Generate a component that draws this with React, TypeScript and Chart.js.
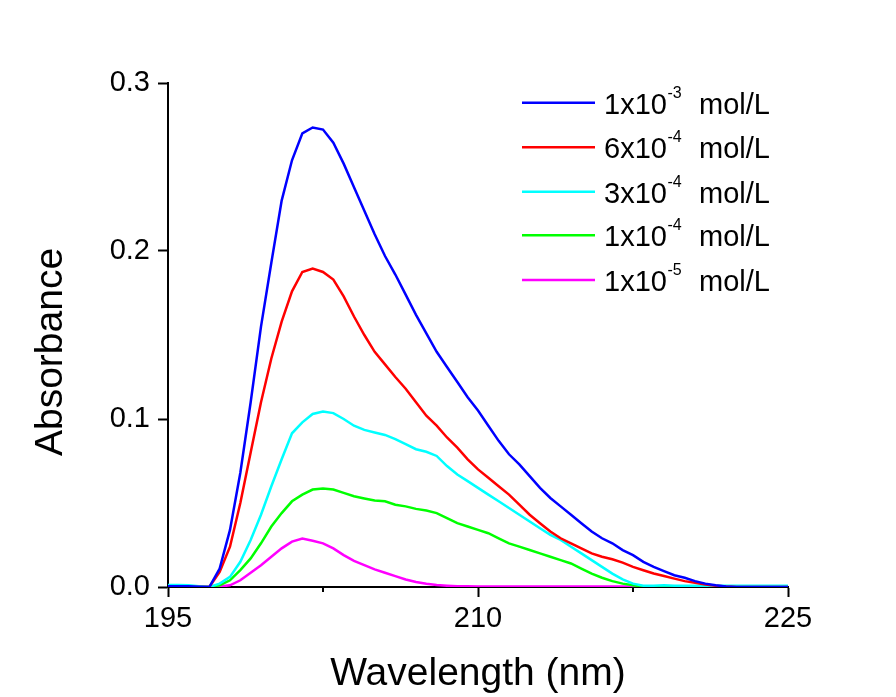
import React, { useEffect, useRef } from "react";
import { Chart, registerables } from "chart.js";

Chart.register(...registerables);

const wavelengths = [
  195, 195.5, 196, 196.5, 197, 197.5, 198, 198.5, 199, 199.5,
  200, 200.5, 201, 201.5, 202, 202.5, 203, 203.5, 204, 204.5,
  205, 205.5, 206, 206.5, 207, 207.5, 208, 208.5, 209, 209.5,
  210, 210.5, 211, 211.5, 212, 212.5, 213, 213.5, 214, 214.5,
  215, 215.5, 216, 216.5, 217, 217.5, 218, 218.5, 219, 219.5,
  220, 220.5, 221, 221.5, 222, 222.5, 223, 223.5, 224, 224.5, 225,
];

const conc1e3 = [
  0.0005, 0.0005, 0.0005, 0.0002, 0, 0.011, 0.034, 0.068, 0.110, 0.155,
  0.193, 0.230, 0.254, 0.270, 0.2735, 0.2723, 0.2645, 0.252, 0.238, 0.224,
  0.210, 0.197, 0.186, 0.174, 0.162, 0.151, 0.140, 0.131, 0.122, 0.113,
  0.105, 0.096, 0.087, 0.079, 0.073, 0.066, 0.059, 0.053, 0.048, 0.043,
  0.038, 0.033, 0.029, 0.026, 0.022, 0.019, 0.015, 0.012, 0.0095, 0.007,
  0.0055, 0.0035, 0.002, 0.001, 0.0003, 0, 0, 0, 0, 0, 0,
];

const conc6e4 = [
  0, 0, 0, 0, 0, 0.009, 0.024, 0.050, 0.080, 0.110,
  0.136, 0.158, 0.176, 0.1875, 0.1895, 0.1875, 0.183, 0.173, 0.161, 0.150,
  0.140, 0.1325, 0.125, 0.118, 0.110, 0.102, 0.096, 0.089, 0.083, 0.076,
  0.070, 0.065, 0.060, 0.055, 0.049, 0.043, 0.038, 0.033, 0.029, 0.026,
  0.023, 0.020, 0.018, 0.0165, 0.0145, 0.012, 0.010, 0.008, 0.0065, 0.005,
  0.0035, 0.0025, 0.0015, 0.0008, 0.0003, 0, 0, 0, 0, 0, 0,
];

const conc3e4 = [
  0.0012, 0.0012, 0.001, 0.0005, 0, 0.002, 0.006, 0.015, 0.028, 0.043,
  0.060, 0.076, 0.0915, 0.098, 0.103, 0.1044, 0.1035, 0.100, 0.096, 0.0935,
  0.092, 0.0905, 0.088, 0.085, 0.082, 0.0805, 0.078, 0.072, 0.067, 0.063,
  0.059, 0.055, 0.051, 0.047, 0.043, 0.039, 0.035, 0.031, 0.028, 0.024,
  0.020, 0.016, 0.012, 0.008, 0.0045, 0.002, 0.0008, 0.0008, 0.001, 0.0008,
  0.0008, 0.0008, 0.0008, 0.0008, 0.0008, 0.0007, 0.0007, 0.0007, 0.0007, 0.0007, 0.0007,
];

const conc1e4 = [
  0.0003, 0.0003, 0.0003, 0.0002, 0, 0.001, 0.004, 0.010, 0.017, 0.026,
  0.036, 0.044, 0.051, 0.055, 0.058, 0.0587, 0.058, 0.056, 0.054, 0.0527,
  0.0515, 0.051, 0.049, 0.048, 0.0465, 0.0455, 0.044, 0.041, 0.038, 0.036,
  0.034, 0.032, 0.029, 0.026, 0.024, 0.022, 0.020, 0.018, 0.016, 0.014,
  0.011, 0.008, 0.0055, 0.0035, 0.002, 0.001, 0.0003, 0, 0, 0,
  0, 0, 0, 0, 0, 0, 0, 0, 0, 0, 0,
];

const conc1e5 = [
  0.0005, 0.0005, 0.0005, 0.0003, 0, 0.0003, 0.001, 0.004, 0.0085, 0.013,
  0.018, 0.023, 0.027, 0.0289, 0.0275, 0.026, 0.023, 0.019, 0.0155, 0.013,
  0.0105, 0.0085, 0.0065, 0.0045, 0.003, 0.002, 0.0012, 0.0008, 0.0005, 0.0004,
  0.0003, 0.0003, 0.0003, 0.0003, 0.0003, 0.0003, 0.0003, 0.0003, 0.0003, 0.0003,
  0.0003, 0.0003, 0.0003, 0.0003, 0.0003, 0.0003, 0.0003, 0.0003, 0.0003, 0.0003,
  0.0003, 0.0003, 0.0003, 0.0003, 0.0003, 0.0003, 0.0003, 0.0003, 0.0003, 0.0003, 0.0003,
];

const seriesValues = [conc1e3, conc6e4, conc3e4, conc1e4, conc1e5];
const seriesColors = ["#0000FF", "#FF0000", "#00FFFF", "#00FF00", "#FF00FF"];
const legendMantissa = ["1x10", "6x10", "3x10", "1x10", "1x10"];
const legendExponent = ["-3", "-4", "-4", "-4", "-5"];
const legendUnit = "mol/L";

const xMajorTicks = [195, 210, 225];
const xMinorTicks = [202.5, 217.5];
const yTicks = [0.0, 0.1, 0.2, 0.3];

const xTitle = "Wavelength (nm)";
const yTitle = "Absorbance";

const FONT = "'Liberation Sans', Arial, Helvetica, sans-serif";

export default function App() {
  const canvasRef = useRef<HTMLCanvasElement | null>(null);

  useEffect(() => {
    const canvas = canvasRef.current;
    if (!canvas) return;

    const overlay = {
      id: "overlay",
      afterDraw(chart: any) {
        const ctx = chart.ctx as CanvasRenderingContext2D;
        const xs = chart.scales.x;
        const area = chart.chartArea;
        ctx.save();
        // minor ticks
        ctx.strokeStyle = "#000";
        ctx.lineWidth = 2;
        xMinorTicks.forEach((v) => {
          const px = Math.round(xs.getPixelForValue(v));
          ctx.beginPath();
          ctx.moveTo(px, area.bottom);
          ctx.lineTo(px, area.bottom + 5);
          ctx.stroke();
        });
        // axis titles
        ctx.fillStyle = "#000";
        ctx.font = `39px ${FONT}`;
        ctx.textAlign = "center";
        ctx.textBaseline = "alphabetic";
        ctx.fillText(xTitle, (area.left + area.right) / 2, 685);
        ctx.save();
        ctx.translate(62, 352);
        ctx.rotate(-Math.PI / 2);
        ctx.fillText(yTitle, 0, 0);
        ctx.restore();
        // legend
        const rowY = [102.7, 147.3, 191.7, 235.3, 280];
        ctx.textAlign = "left";
        seriesColors.forEach((c, i) => {
          const y = rowY[i];
          ctx.strokeStyle = c;
          ctx.lineWidth = 2.5;
          ctx.beginPath();
          ctx.moveTo(522, y);
          ctx.lineTo(595, y);
          ctx.stroke();
          ctx.fillStyle = "#000";
          ctx.font = `29px ${FONT}`;
          const x0 = 604;
          ctx.fillText(legendMantissa[i], x0, y + 10.8);
          const w = ctx.measureText(legendMantissa[i]).width;
          ctx.font = `16px ${FONT}`;
          ctx.fillText(legendExponent[i], x0 + w + 0.5, y - 5);
          ctx.font = `29px ${FONT}`;
          ctx.fillText(legendUnit, 699, y + 10.8);
        });
        ctx.restore();
      },
    };

    const chart = new Chart(canvas, {
      type: "line",
      data: {
        datasets: seriesValues.map((vals, i) => ({
          label: `${legendMantissa[i]}^${legendExponent[i]} ${legendUnit}`,
          data: vals.map((v, j) => ({ x: wavelengths[j], y: v })),
          borderColor: seriesColors[i],
          backgroundColor: seriesColors[i],
          borderWidth: 2.5,
          pointRadius: 0,
          tension: 0,
          fill: false,
        })),
      },
      options: {
        animation: false,
        responsive: false,
        devicePixelRatio: 1,
        layout: { padding: { left: 0, top: 83, right: 108, bottom: 0 } },
        plugins: {
          legend: { display: false },
          tooltip: { enabled: false },
          title: { display: false },
        },
        scales: {
          x: {
            type: "linear",
            min: 195,
            max: 225,
            afterFit: (axis: any) => {
              axis.height = 110;
            },
            afterBuildTicks: (axis: any) => {
              axis.ticks = xMajorTicks.map((v) => ({ value: v }));
            },
            ticks: {
              color: "#000",
              font: { family: FONT, size: 29 },
              padding: 5,
              maxRotation: 0,
              callback: (v: any) => String(v),
            },
            grid: {
              display: true,
              drawOnChartArea: false,
              drawTicks: true,
              tickLength: 10,
              tickWidth: 2,
              tickColor: "#000",
            },
            border: { display: true, color: "#000", width: 2 },
          },
          y: {
            type: "linear",
            min: 0,
            max: 0.3,
            afterFit: (axis: any) => {
              axis.width = 168;
            },
            afterBuildTicks: (axis: any) => {
              axis.ticks = yTicks.map((v) => ({ value: v }));
            },
            ticks: {
              color: "#000",
              font: { family: FONT, size: 29 },
              padding: 8,
              callback: (v: any) => Number(v).toFixed(1),
            },
            grid: {
              display: true,
              drawOnChartArea: false,
              drawTicks: true,
              tickLength: 10,
              tickWidth: 2,
              tickColor: "#000",
            },
            border: { display: true, color: "#000", width: 2 },
          },
        },
      },
      plugins: [overlay],
    } as any);

    return () => {
      chart.destroy();
    };
  }, []);

  return (
    <div
      style={{
        position: "absolute",
        left: 0,
        top: 0,
        width: 896,
        height: 697,
        background: "#fff",
      }}
    >
      <canvas ref={canvasRef} width={896} height={697} />
    </div>
  );
}
